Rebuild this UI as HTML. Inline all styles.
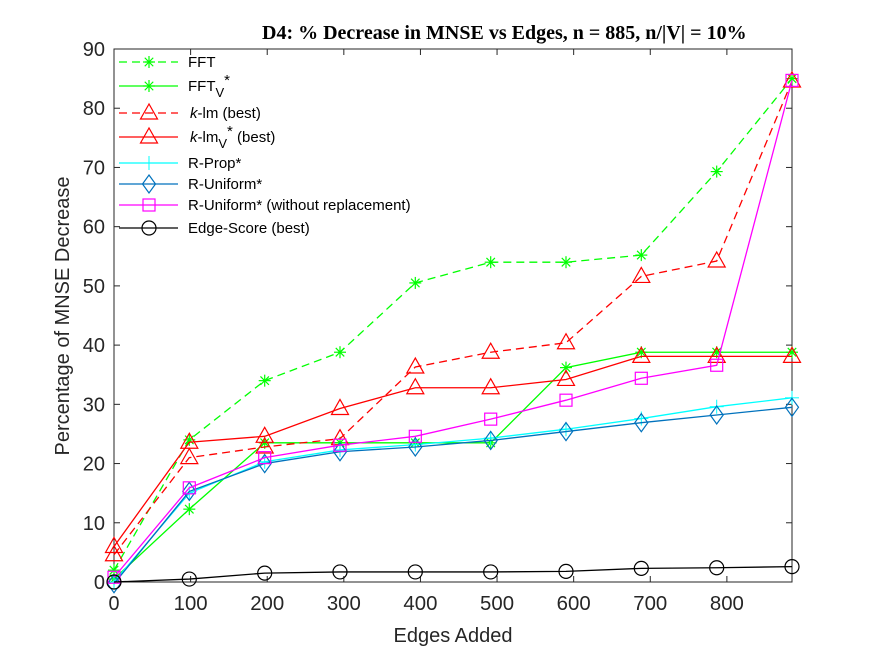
<!DOCTYPE html>
<html><head><meta charset="utf-8"><style>body{margin:0;background:#fff}svg{display:block}</style></head>
<body>
<svg id="chart" width="875" height="656" xmlns="http://www.w3.org/2000/svg" font-family="Liberation Sans, sans-serif"></svg>
<script>
const xValues=[0,98.3,196.7,295,393.3,491.7,590,688.3,786.7,885];
const xTicks=[0,100,200,300,400,500,600,700,800];
const yTicks=[0,10,20,30,40,50,60,70,80,90];
const fftVals=[2,24,34,38.8,50.5,54,54,55.2,69.3,85];
const fftVVals=[0.5,12.3,23.5,23.5,23.5,23.5,36.2,38.8,38.8,38.8];
const klmVals=[4.6,21,22.8,24.2,36.3,38.8,40.4,51.6,54.2,84.6];
const klmVVals=[6,23.6,24.6,29.3,32.8,32.8,34.2,38.1,38.1,38.1];
const rPropVals=[0,15,20.3,22.3,23.2,24.3,25.8,27.6,29.6,31.1];
const rUniVals=[-0.3,15.3,20,22,22.8,23.9,25.4,26.9,28.2,29.5];
const rUniWoVals=[0.8,15.9,21,23.1,24.6,27.5,30.7,34.4,36.6,84.7];
const edgeVals=[0,0.5,1.5,1.7,1.7,1.7,1.8,2.3,2.4,2.6];

const svg=document.getElementById('chart');
const NS='http://www.w3.org/2000/svg';
const L=114,R=792,T=49,B=582;
const sx=v=>L+(v-0)/(885-0)*(R-L);
const sy=v=>B-(v-0)/(90-0)*(B-T);
function mk(tag,at,parent){const e=document.createElementNS(NS,tag);for(const k in at)e.setAttribute(k,at[k]);(parent||svg).appendChild(e);return e;}

const box=mk('rect',{x:L,y:T,width:R-L,height:B-T,fill:'none',stroke:'#262626','stroke-width':1});


xTicks.forEach(t=>{const x=sx(t);
 mk('line',{x1:x,y1:B,x2:x,y2:B-6,stroke:'#262626'});mk('line',{x1:x,y1:T,x2:x,y2:T+6,stroke:'#262626'});
 const tx=mk('text',{x:x,y:B+28,'text-anchor':'middle','font-size':20,fill:'#262626',textLength:t<100?11:34,lengthAdjust:'spacingAndGlyphs'});tx.textContent=t;
 
 });
yTicks.forEach(t=>{const y=sy(t);
 mk('line',{x1:L,y1:y,x2:L+6,y2:y,stroke:'#262626'});mk('line',{x1:R,y1:y,x2:R-6,y2:y,stroke:'#262626'});
 const tx=mk('text',{x:L-9,y:y+7,'text-anchor':'end','font-size':20,fill:'#262626'});tx.textContent=t;
 
 });
const title=mk('text',{x:262,y:39,'font-size':20,'font-weight':'bold','font-family':'Liberation Serif, serif',fill:'#000'});
title.textContent='D4: % Decrease in MNSE vs Edges, n = 885, n/|V| = 10%';


const xl=mk('text',{x:453,y:642,'text-anchor':'middle','font-size':20,fill:'#262626'});xl.textContent='Edges Added';


const yl=mk('text',{x:0,y:0,'text-anchor':'middle','font-size':20,fill:'#262626',transform:'translate(69,316) rotate(-90)'});yl.textContent='Percentage of MNSE Decrease';



function marker(type,x,y,color,g){
 if(type==='star'){for(let a=0;a<4;a++){const ang=a*Math.PI/4,dx=6*Math.cos(ang),dy=6*Math.sin(ang);mk('line',{x1:x-dx,y1:y-dy,x2:x+dx,y2:y+dy,stroke:color,'stroke-width':1.2},g);}}
 else if(type==='tri')mk('polygon',{points:`${x},${y-9} ${x-8.5},${y+6} ${x+8.5},${y+6}`,fill:'none',stroke:color,'stroke-width':1.2},g);
 else if(type==='plus'){mk('line',{x1:x-7,y1:y,x2:x+7,y2:y,stroke:color},g);mk('line',{x1:x,y1:y-7,x2:x,y2:y+7,stroke:color},g);}
 else if(type==='diam')mk('polygon',{points:`${x},${y-9} ${x+6.5},${y} ${x},${y+9} ${x-6.5},${y}`,fill:'none',stroke:color,'stroke-width':1.2},g);
 else if(type==='sq')mk('rect',{x:x-6,y:y-6,width:12,height:12,fill:'none',stroke:color,'stroke-width':1.2},g);
 else if(type==='circ')mk('circle',{cx:x,cy:y,r:7,fill:'none',stroke:color,'stroke-width':1.2},g);
}
const specs=[
 {vals:fftVals,color:'#00ff00',dash:'8,5',m:'star',name:'series-fft'},
 {vals:fftVVals,color:'#00ff00',dash:'',m:'star',name:'series-fft-v'},
 {vals:klmVals,color:'#ff0000',dash:'8,5',m:'tri',name:'series-klm'},
 {vals:klmVVals,color:'#ff0000',dash:'',m:'tri',name:'series-klm-v'},
 {vals:rPropVals,color:'#00ffff',dash:'',m:'plus',name:'series-r-prop'},
 {vals:rUniVals,color:'#0072bd',dash:'',m:'diam',name:'series-r-uniform'},
 {vals:rUniWoVals,color:'#ff00ff',dash:'',m:'sq',name:'series-r-uniform-wo'},
 {vals:edgeVals,color:'#000000',dash:'',m:'circ',name:'series-edge-score'}];
specs.forEach(s=>{
 const g=mk('g',{});
 
 
 const pts=s.vals.map((v,i)=>sx(xValues[i])+','+sy(v)).join(' ');
 const at={points:pts,fill:'none',stroke:s.color,'stroke-width':1.3};if(s.dash)at['stroke-dasharray']=s.dash;
 mk('polyline',at,g);
 s.vals.forEach((v,i)=>marker(s.m,sx(xValues[i]),sy(v),s.color,g));
});
const legY=[62,86,113,137,163,184,205,228];
const legLabels=['FFT','FFT<tspan font-size="13" dy="6">V</tspan><tspan dy="-12">*</tspan>','<tspan font-style="italic">k</tspan>-lm (best)','<tspan font-style="italic">k</tspan>-lm<tspan font-size="13" dy="6">V</tspan><tspan dy="-12">*</tspan><tspan dy="6"> (best)</tspan>','R-Prop*','R-Uniform*','R-Uniform* (without replacement)','Edge-Score (best)'];
specs.forEach((s,i)=>{
 const g=mk('g',{});
 
 
 const y=legY[i];const at={x1:119,y1:y,x2:178,y2:y,stroke:s.color,'stroke-width':1.3};if(s.dash)at['stroke-dasharray']=s.dash;
 mk('line',at,g);marker(s.m,149,y,s.color,g);
 const t=mk('text',{x:(i===2||i===3)?190:188,y:y+5,'font-size':15,fill:'#000'},g);t.innerHTML=legLabels[i];
});
</script>
</body></html>
